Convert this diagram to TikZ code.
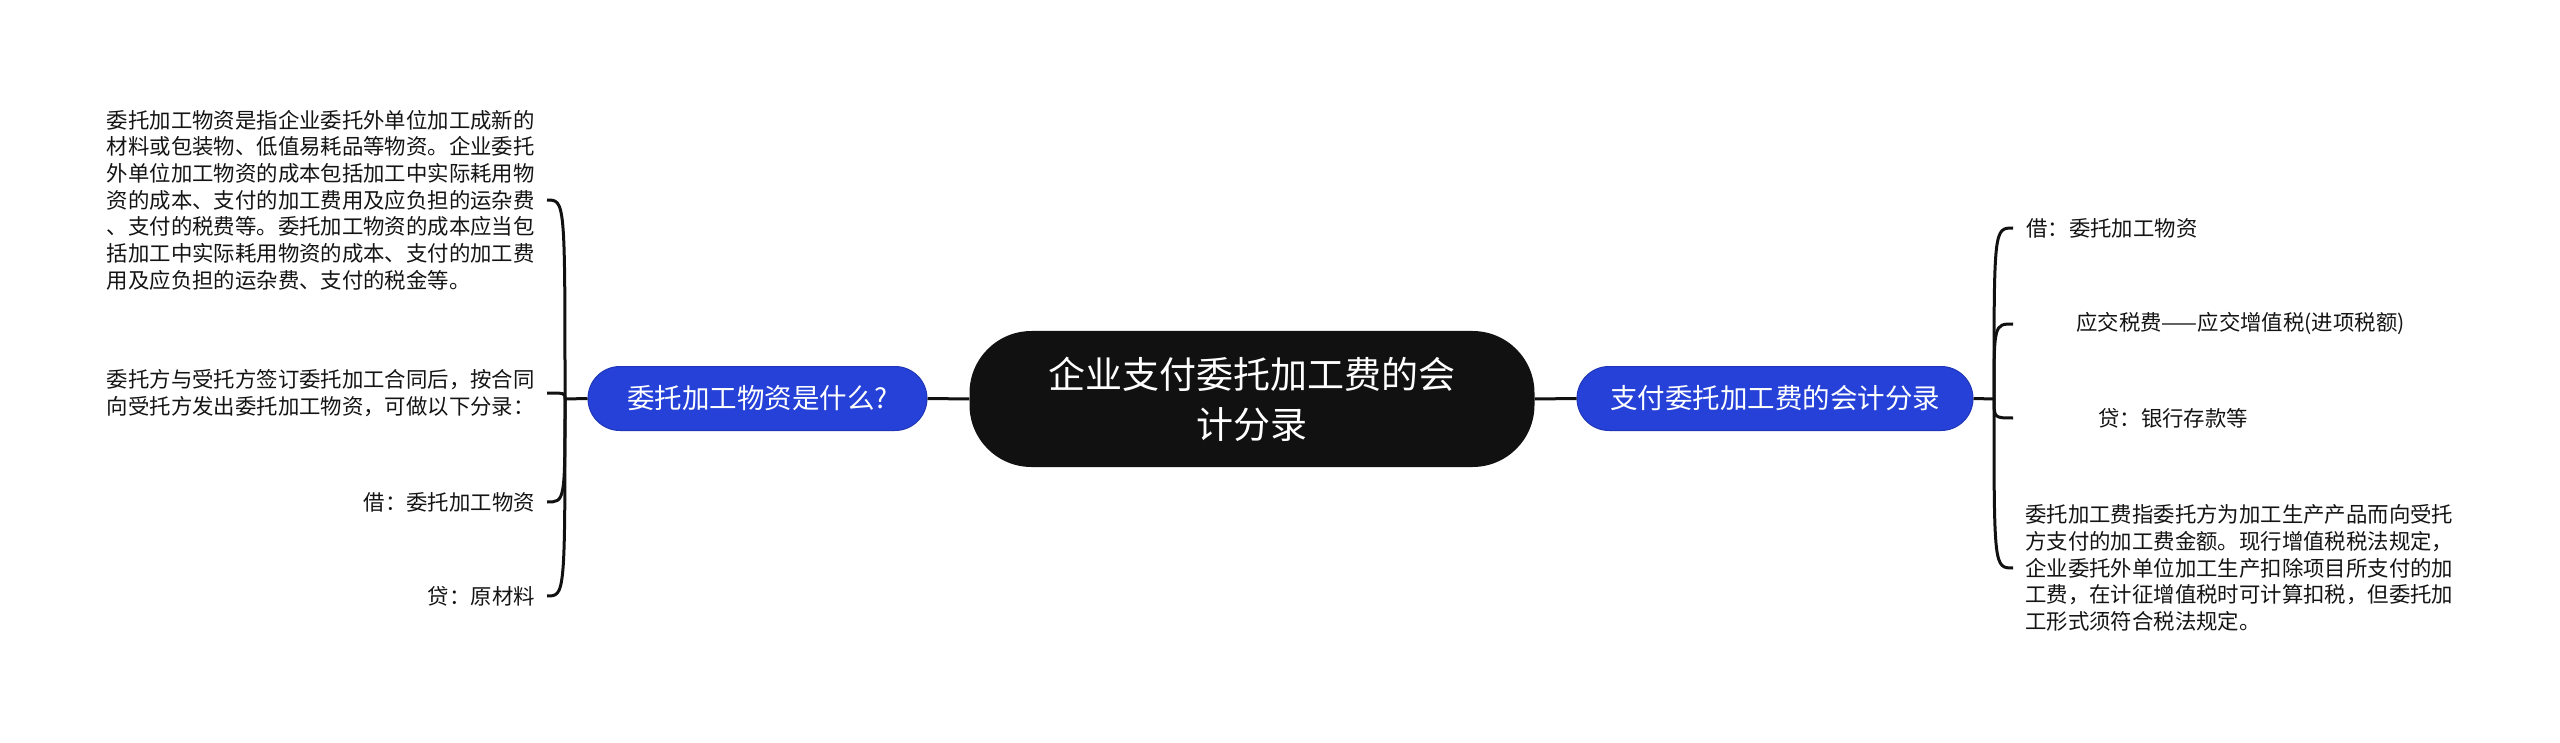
\documentclass[tikz,border=0pt]{standalone}
\usepackage{fontspec}
\setmainfont{Noto Sans CJK SC}
\definecolor{nodeblue}{RGB}{37,65,216}
\definecolor{rootblack}{RGB}{17,17,17}
\definecolor{txt}{RGB}{20,20,20}
\begin{document}
\begin{tikzpicture}[x=1pt,y=-1pt,
  root/.style={fill=rootblack, text=white, rounded corners=62pt, minimum width=565pt, minimum height=136pt, align=center, inner sep=0pt, font=\fontsize{37}{50}\selectfont},
  branch/.style={fill=nodeblue, draw=nodeblue!85!black, line width=1pt, text=white, rounded corners=32pt, minimum height=64pt, inner sep=0pt, font=\fontsize{27.5}{33}\selectfont},
  leaf/.style={text=txt, inner xsep=12pt, inner ysep=2pt, align=left, font=\fontsize{21.4}{26.7}\selectfont},
  conn/.style={draw=rootblack, line width=3pt},
]
\useasboundingbox (0,0) rectangle (2560,743);

% central and branch nodes
\node[root] (root) at (1252,399) {企业支付委托加工费的会\\计分录};
\node[branch, minimum width=339pt] (lb) at (757.5,398.5) {委托加工物资是什么?};
\node[branch, minimum width=396pt] (rb) at (1775,398.5) {支付委托加工费的会计分录};

\draw[conn] (lb.east) -- (root.west);
\draw[conn] (root.east) -- (rb.west);

% left leaves
\node[leaf, anchor=east] (l1) at (547,200) {委托加工物资是指企业委托外单位加工成新的\\材料或包装物、低值易耗品等物资。企业委托\\外单位加工物资的成本包括加工中实际耗用物\\资的成本、支付的加工费用及应负担的运杂费\\、支付的税费等。委托加工物资的成本应当包\\括加工中实际耗用物资的成本、支付的加工费\\用及应负担的运杂费、支付的税金等。};
\node[leaf, anchor=east] (l2) at (547,393) {委托方与受托方签订委托加工合同后，按合同\\向受托方发出委托加工物资，可做以下分录：};
\node[leaf, anchor=east] (l3) at (547,502) {借：委托加工物资};
\node[leaf, anchor=east] (l4) at (547,596) {贷：原材料};

\coordinate (lt) at (565,399);
\draw[conn] (lb.west) -- (lt);
\foreach \n in {l1,l2,l3,l4}
  \draw[conn] (lt) .. controls (lt |- \n.east) and (lt |- \n.east) .. (\n.east);

% right leaves
\node[leaf, anchor=west, inner xsep=13pt] (r1) at (2013,228) {借：委托加工物资};
\node[leaf, anchor=west, inner xsep=13pt] (r2) at (2013,324) {\hspace{50pt}应交税费——应交增值税(进项税额)};
\node[leaf, anchor=west, inner xsep=13pt] (r3) at (2013,418) {\hspace{72pt}贷：银行存款等};
\node[leaf, anchor=west, inner xsep=12pt] (r4) at (2013,568) {委托加工费指委托方为加工生产产品而向受托\\方支付的加工费金额。现行增值税税法规定，\\企业委托外单位加工生产扣除项目所支付的加\\工费，在计征增值税时可计算扣税，但委托加\\工形式须符合税法规定。};

\coordinate (rt) at (1994,399);
\draw[conn] (rb.east) -- (rt);
\foreach \n in {r1,r2,r3,r4}
  \draw[conn] (rt) .. controls (rt |- \n.west) and (rt |- \n.west) .. (\n.west);
\end{tikzpicture}
\end{document}
